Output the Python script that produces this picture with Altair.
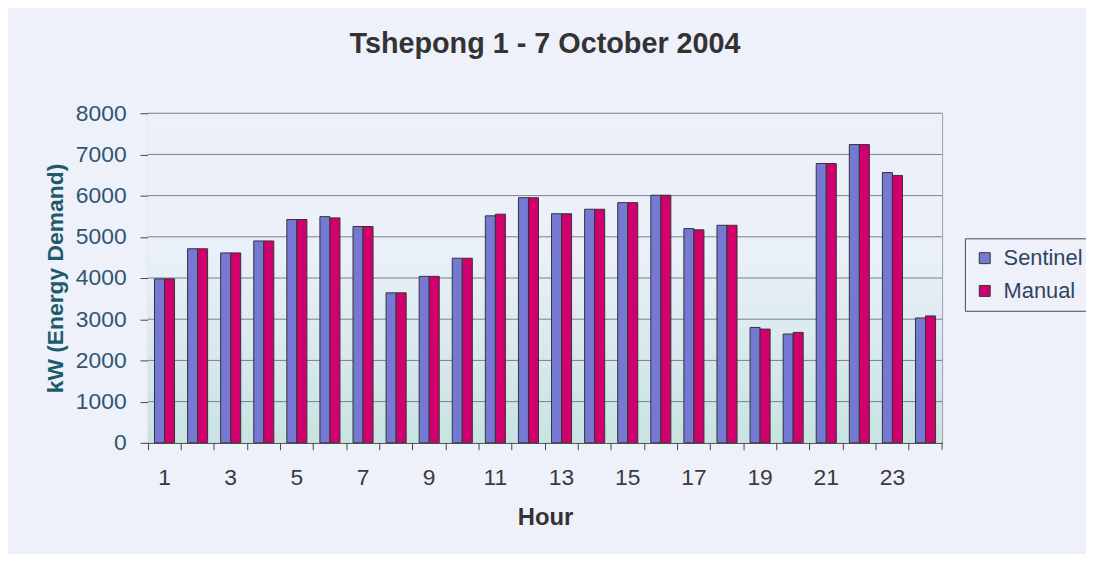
import altair as alt
import pandas as pd

hours = list(range(1, 25))
sentinel = [3980, 4710, 4610, 4900, 5420, 5490, 5250, 3640, 4040, 4480, 5510, 5950,
            5560, 5670, 5830, 6010, 5200, 5280, 2800, 2640, 6780, 7240, 6560, 3030]
manual = [3980, 4710, 4610, 4900, 5420, 5460, 5250, 3640, 4040, 4480, 5550, 5950,
          5560, 5670, 5830, 6010, 5170, 5280, 2760, 2680, 6780, 7240, 6490, 3080]
series_names = ["Sentinel", "Manual"]
series_colors = ["#7579D3", "#D1006F"]
grid_values = [1000, 2000, 3000, 4000, 5000, 6000, 7000, 8000]

rows = []
for h, s, m in zip(hours, sentinel, manual):
    rows.append({"hour": h, "series": "Sentinel", "value": s})
    rows.append({"hour": h, "series": "Manual", "value": m})
df = pd.DataFrame(rows)
grid_df = pd.DataFrame({"value": grid_values})

W, H = 800, 332
Y_TITLE = "kW (Energy Demand)"

y_axis = alt.Axis(values=[0] + grid_values, format="d", grid=False, labelFontSize=23,
                  labelFont="Liberation Sans", labelColor="#2E5572", labelPadding=14,
                  tickSize=8, tickColor="#444444", domainColor="#444444",
                  titleFontSize=23, titleFont="Liberation Sans", titleFontWeight="bold",
                  titleColor="#1F5A6B", titlePadding=8)
y_scale = alt.Scale(domain=[0, 8000])

bg = alt.Chart(pd.DataFrame({"a": [0]})).mark_rect(
    fill=alt.Gradient(
        gradient="linear", x1=0, y1=0, x2=0, y2=1,
        stops=[alt.GradientStop(offset=0, color="#EEF0FA"),
               alt.GradientStop(offset=0.42, color="#EAF0F9"),
               alt.GradientStop(offset=1, color="#C7E3E2")]
    )
).encode(x=alt.value(0), x2=alt.value("width"), y=alt.value(0), y2=alt.value("height"))

grid = alt.Chart(grid_df).mark_rule(color="#7E7E86", strokeWidth=1).encode(
    y=alt.Y("value:Q", title=Y_TITLE, axis=y_axis, scale=y_scale)
)

bars = alt.Chart(df).mark_bar(stroke="#333333", strokeWidth=1).encode(
    x=alt.X("hour:O", title="Hour",
            scale=alt.Scale(paddingInner=0, paddingOuter=0),
            axis=alt.Axis(labelAngle=0, bandPosition=0,
                          labelExpr="datum.value % 2 == 1 ? datum.label : ''",
                          labelFontSize=23, labelFont="Liberation Sans", labelColor="#3A3A3A",
                          labelPadding=17, tickSize=7, tickColor="#444444",
                          domainColor="#444444", titleFontSize=24, titleFont="Liberation Sans",
                          titleFontWeight="bold", titleColor="#333333", titlePadding=16,
                          grid=False)),
    xOffset=alt.XOffset("series:N", sort=series_names,
                        scale=alt.Scale(domain=series_names, paddingOuter=0.65, paddingInner=0)),
    y=alt.Y("value:Q", title=Y_TITLE, scale=y_scale, axis=y_axis),
    color=alt.Color("series:N", sort=series_names,
                    scale=alt.Scale(domain=series_names, range=series_colors),
                    legend=alt.Legend(title=None, orient="none", legendX=823, legendY=126,
                                      symbolType="square", symbolSize=121,
                                      symbolStrokeColor="#333333", symbolStrokeWidth=1,
                                      symbolOpacity=1, labelFontSize=22,
                                      labelFont="Liberation Sans", labelColor="#2E4560",
                                      labelOffset=8, rowPadding=11, padding=9,
                                      strokeColor="#4A4A4A", fillColor="#EEF1FA")),
)

end_tick = alt.Chart(pd.DataFrame({"a": [0]})).mark_rule(color="#444444").encode(
    x=alt.value("width"), y=alt.value("height"), y2=alt.value({"expr": "height + 7"})
)

chart = alt.layer(bg, grid, bars, end_tick).properties(
    width=W, height=H,
    title=alt.Title("Tshepong 1 - 7 October 2004", fontSize=29, font="Liberation Sans",
                    fontWeight="bold", color="#333333", anchor="middle", offset=44),
    autosize=alt.AutoSizeParams(type="none"),
    padding={"left": 141, "top": 104, "right": 145, "bottom": 110},
    background="#EEF1FA",
).configure_view(stroke="#9A9AA6", strokeWidth=1)

chart.save("out.html", embed_options={"renderer": "svg", "actions": False})
